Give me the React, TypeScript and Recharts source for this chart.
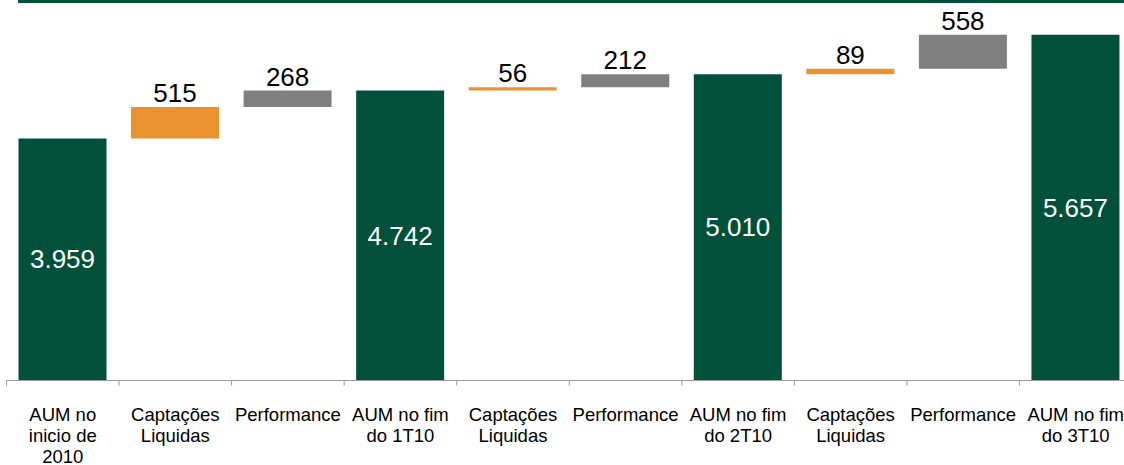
import React from 'react';
import { BarChart, Bar, XAxis, YAxis, Cell, LabelList } from 'recharts';

const categories = [
  'AUM no\ninicio de\n2010',
  'Captações\nLiquidas',
  'Performance',
  'AUM no fim\ndo 1T10',
  'Captações\nLiquidas',
  'Performance',
  'AUM no fim\ndo 2T10',
  'Captações\nLiquidas',
  'Performance',
  'AUM no fim\ndo 3T10',
];
const kinds = ['total', 'inflow', 'perf', 'total', 'inflow', 'perf', 'total', 'inflow', 'perf', 'total'];
const values = [3959, 515, 268, 4742, 56, 212, 5010, 89, 558, 5657];

const GREEN = '#00503A';
const ORANGE = '#EA922F';
const GRAY = '#808080';
const FONT = '"Liberation Sans", Arial, Helvetica, sans-serif';

const W = 1124;
const H = 465;
const M = { top: 13.7, right: -8, left: 6.5, bottom: 0 };
const XH = 84.5;
const BAND = (W - M.left - M.right) / categories.length;

const colorOf = (k: string) => (k === 'total' ? GREEN : k === 'inflow' ? ORANGE : GRAY);

const fmt = (v: number) => String(v).replace(/\B(?=(\d{3})+(?!\d))/g, '.');

let running = 0;
const data = values.map((v, i) => {
  let base = 0;
  if (kinds[i] === 'total') {
    running = v;
  } else {
    base = running;
    running += v;
  }
  return { id: 'c' + i, base, value: v };
});

const Tick = (props: any) => {
  const { x, y, payload, index } = props;
  const idx = payload && typeof payload.index === 'number' ? payload.index : index;
  const lines = categories[idx].split('\n');
  const half = BAND / 2;
  return (
    <g>
      <line x1={x - half} x2={x - half} y1={y} y2={y + 5} stroke="#9a9a9a" strokeWidth={1} />
      {idx === categories.length - 1 && (
        <line x1={x + half} x2={x + half} y1={y} y2={y + 5} stroke="#9a9a9a" strokeWidth={1} />
      )}
      <text x={x} y={y} textAnchor="middle" fontSize={18.5} fill="#000" fontFamily={FONT}>
        {lines.map((l, i) => (
          <tspan key={i} x={x} dy={i === 0 ? 40 : 21}>
            {l}
          </tspan>
        ))}
      </text>
    </g>
  );
};

const renderLabel = (props: any) => {
  const { x, y, width, height, index } = props;
  const text = fmt(values[index]);
  const cx = Number(x) + Number(width) / 2;
  if (kinds[index] === 'total') {
    return (
      <text
        x={cx}
        y={Number(y) + Number(height) / 2}
        textAnchor="middle"
        dominantBaseline="central"
        fontSize={26}
        fill="#fff"
        fontFamily={FONT}
      >
        {text}
      </text>
    );
  }
  return (
    <text x={cx} y={Number(y) - 5} textAnchor="middle" fontSize={26} fill="#000" fontFamily={FONT}>
      {text}
    </text>
  );
};

export default function App() {
  return (
    <div style={{ position: 'absolute', left: 0, top: 0, width: W, height: H, background: '#fff', overflow: 'hidden' }}>
      <div style={{ position: 'absolute', left: 18, top: 0, width: W - 18, height: 3, background: GREEN }} />
      <BarChart width={W} height={H} data={data} margin={M} barSize={88}>
        <XAxis
          dataKey="id"
          height={XH}
          interval={0}
          tickLine={false}
          tickSize={0}
          tickMargin={0}
          axisLine={{ stroke: '#9a9a9a', strokeWidth: 1 }}
          tick={<Tick />}
        />
        <YAxis hide domain={[0, 6000]} />
        <Bar dataKey="base" stackId="a" fill="transparent" isAnimationActive={false} />
        <Bar dataKey="value" stackId="a" isAnimationActive={false}>
          {data.map((d, i) => (
            <Cell key={d.id} fill={colorOf(kinds[i])} />
          ))}
          <LabelList dataKey="value" content={renderLabel} />
        </Bar>
      </BarChart>
    </div>
  );
}
